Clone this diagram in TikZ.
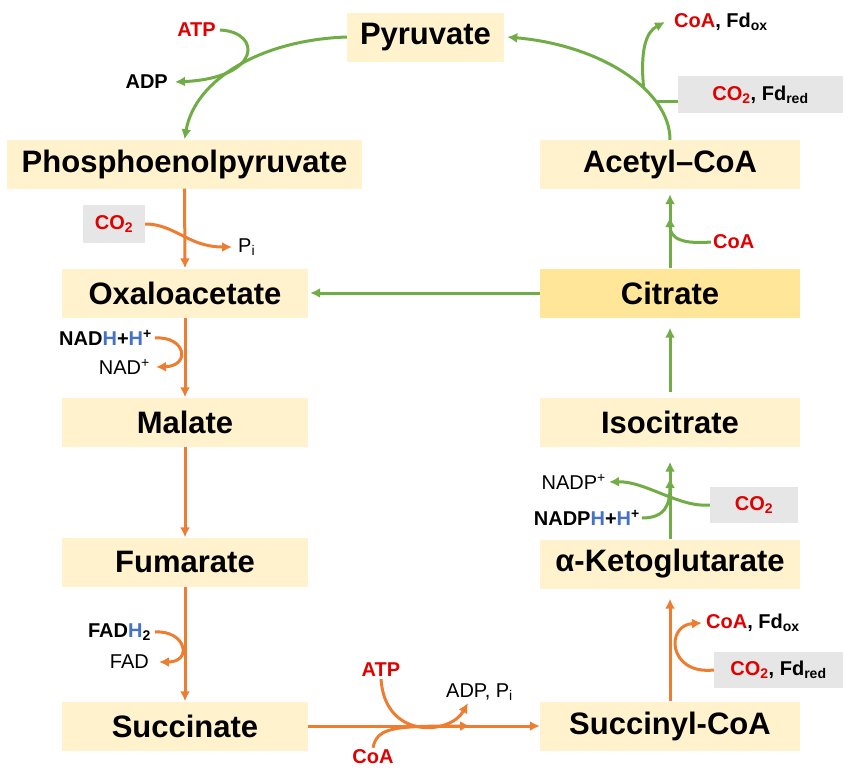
\documentclass[tikz,border=0pt]{standalone}
\usepackage{fontspec}
\setmainfont{Liberation Sans}
\usetikzlibrary{arrows.meta}
\definecolor{gr}{HTML}{70AD47}
\definecolor{og}{HTML}{ED7D31}
\definecolor{bx}{HTML}{FFF2CC}
\definecolor{bxd}{HTML}{FFE699}
\definecolor{gy}{HTML}{E7E6E6}
\definecolor{rd}{HTML}{E00000}
\definecolor{bl}{HTML}{4472C4}
\newcommand\msub[1]{\textsubscript{#1}}
\newcommand\msup[1]{\textsuperscript{#1}}
\begin{document}
\begin{tikzpicture}[x=1pt,y=-1pt,
  box/.style={fill=bx, minimum height=49pt, inner sep=0pt, font=\fontsize{31}{37}\selectfont\bfseries},
  lbl/.style={inner sep=0pt, font=\fontsize{20}{24}\selectfont},
  blbl/.style={inner sep=0pt, font=\fontsize{20}{24}\selectfont\bfseries},
  gbox/.style={fill=gy, inner sep=0pt, font=\fontsize{20}{24}\selectfont\bfseries},
  tip/.style={-{Latex[length=10pt,width=10pt]}},
  gl/.style={draw=gr, line width=3pt},
  ga/.style={gl, tip},
  ol/.style={draw=og, line width=3pt},
  oa/.style={ol, tip}]
\useasboundingbox (0,0) rectangle (851,771);
% main boxes
\node[box, minimum width=157pt] (pyr) at (425.5,37) {Pyruvate};
\node[box, minimum width=355pt] (pep) at (184.5,164) {Phosphoenolpyruvate};
\node[box, minimum width=246pt] (oaa) at (185,293) {Oxaloacetate};
\node[box, minimum width=246pt] (mal) at (185,422) {Malate};
\node[box, minimum width=246pt] (fum) at (185,562) {Fumarate};
\node[box, minimum width=246pt] (suc) at (185,726) {Succinate};
\node[box, minimum width=260pt] (acc) at (670,164.5) {Acetyl–CoA};
\node[box, minimum width=260pt, fill=bxd] (cit) at (670,293) {Citrate};
\node[box, minimum width=260pt] (iso) at (670,422) {Isocitrate};
\node[box, minimum width=260pt] (akg) at (670,564) {α-Ketoglutarate};
\node[box, minimum width=260pt] (sca) at (670,726) {Succinyl-CoA};
% side labels
\node[blbl, text=rd, anchor=east] (atp1) at (216,30) {ATP};
\node[blbl, anchor=east] (adp1) at (168,82) {ADP};
\node[gbox, minimum width=62pt, minimum height=38pt] (co2a) at (114,224) {\textcolor{rd}{CO\msub{2}}};
\node[lbl, anchor=west] (pi1) at (238,247) {P\msub{i}};
\node[blbl, anchor=east] (nadh) at (152,338) {NAD\textcolor{bl}{H}+\textcolor{bl}{H}\msup{+}};
\node[lbl, anchor=east] (nad) at (150,367) {NAD\msup{+}};
\node[blbl, anchor=east] (fadh) at (151,632) {FAD\textcolor{bl}{H}\msub{2}};
\node[lbl, anchor=east] (fad) at (149,662) {FAD};
\node[blbl, text=rd] (atp2) at (381,670) {ATP};
\node[lbl, anchor=west] (adppi) at (446,692) {ADP, P\msub{i}};
\node[blbl, text=rd] (coa3) at (373,757) {CoA};
\node[blbl, anchor=west] (coafd2) at (706,623) {\textcolor{rd}{CoA}, Fd\msub{ox}};
\node[gbox, minimum width=129pt, minimum height=36pt] (co2fd2) at (778.5,670) {\textcolor{rd}{CO\msub{2}}, Fd\msub{red}};
\node[gbox, minimum width=88pt, minimum height=36pt] (co2c) at (754,505) {\textcolor{rd}{CO\msub{2}}};
\node[lbl, anchor=east] (nadp) at (606,482) {NADP\msup{+}};
\node[blbl, anchor=east] (nadph) at (640,518) {NADP\textcolor{bl}{H}+\textcolor{bl}{H}\msup{+}};
\node[blbl, text=rd, anchor=west] (coa2) at (713,242) {CoA};
\node[gbox, minimum width=165pt, minimum height=37pt] (co2fd1) at (760.5,94.5) {\textcolor{rd}{CO\msub{2}}, Fd\msub{red}};
\node[blbl, anchor=west] (coafd1) at (674,22) {\textcolor{rd}{CoA}, Fd\msub{ox}};
% merge points
\coordinate (m1) at (670,217);
\coordinate (m2) at (670,478);
\coordinate (m3) at (470,726);
\coordinate (t1) at (468,703);
% green connectors
\draw[ga] (acc.north) .. controls (670,90) and (600,45) .. ([xshift=3pt]pyr.east)
   coordinate[pos=0.37] (b1) coordinate[pos=0.27] (b2);
\draw[ga] (b1) .. controls (640,50) and (646,32) .. ([xshift=-9pt]coafd1.west);
\draw[gl] (co2fd1.west |- b2) -- (b2);
\draw[ga] (pyr.west) .. controls (260,40) and (195,80) .. (pep.north);
\draw[ga] ([xshift=4pt]atp1.east) .. controls (262,32) and (262,78) .. ([xshift=7pt]adp1.east);
\draw[ga] (cit.west) -- ([xshift=2pt]oaa.east);
\draw[ga] ([yshift=5pt]iso.north) -- ([yshift=-10pt]cit.south);
\draw[ga] (cit.north) -- ([yshift=-5pt]acc.south);
\draw[ga] ([xshift=-2pt]coa2.west) .. controls (685,244) and (670,240) .. (m1);
\draw[ga] (akg.north) -- ([yshift=-15pt]iso.south);
\draw[ga] ([xshift=2pt]nadph.east) .. controls (665,518) and (670,505) .. (m2);
\draw[ga] (co2c.west) .. controls (680,508) and (645,481) .. ([xshift=3pt]nadp.east);
% orange connectors
\draw[oa] (pep.south) -- (oaa.north);
\draw[oa] (co2a.east) .. controls (175,224) and (188,247) .. ([xshift=-6pt]pi1.west);
\draw[oa] (oaa.south) -- (mal.north);
\draw[oa] ([xshift=3pt]nadh.east) .. controls (186,336) and (191,366) .. ([xshift=6pt]nad.east);
\draw[oa] (mal.south) -- (fum.north);
\draw[oa] (fum.south) -- (suc.north);
\draw[oa] ([xshift=4pt]fadh.east) .. controls (186,630) and (193,662) .. ([xshift=10pt]fad.east);
\draw[oa] (suc.east) -- (sca.west);
\draw[oa] ([yshift=-2pt]atp2.south) .. controls (385,740) and (450,735) .. (t1);
\draw[oa] ([yshift=2pt]coa3.north) .. controls (377,727) and (395,726) .. (m3);
\draw[oa] (sca.north) -- ([yshift=-10pt]akg.south);
\draw[oa] (co2fd2.west) .. controls (668,675) and (665,625) .. ([xshift=-4pt]coafd2.west);
\end{tikzpicture}
\end{document}
